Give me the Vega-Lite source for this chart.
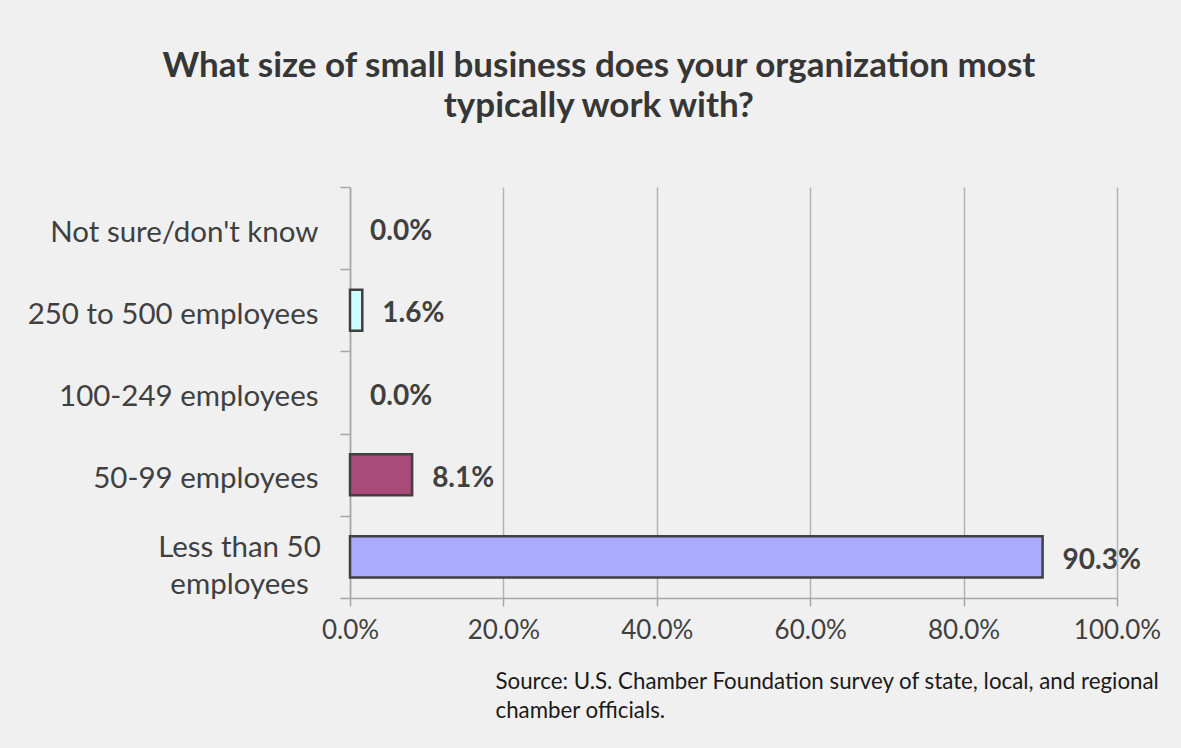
{
  "$schema": "https://vega.github.io/schema/vega-lite/v6.json",
  "autosize": {"type": "none"},
  "width": 767,
  "height": 411,
  "padding": {"left": 350, "top": 187, "right": 64, "bottom": 150},
  "background": "#f0f0f0",
  "title": {
    "text": ["What size of small business does your organization most", "typically work with?"],
    "font": "Lato",
    "fontSize": 35,
    "fontWeight": "bold",
    "color": "#363636",
    "lineHeight": 40,
    "anchor": "middle",
    "frame": "bounds",
    "offset": 48,
    "dx": 5
  },
  "config": {
    "view": {"stroke": null},
    "font": "Lato"
  },
  "data": {
    "values": [
      {"size": "Not sure/don't know", "share": 0.0},
      {"size": "250 to 500 employees", "share": 0.016},
      {"size": "100-249 employees", "share": 0.0},
      {"size": "50-99 employees", "share": 0.081},
      {"size": "Less than 50 employees", "share": 0.903}
    ]
  },
  "encoding": {
    "y": {
      "field": "size",
      "type": "nominal",
      "sort": ["Not sure/don't know", "250 to 500 employees", "100-249 employees", "50-99 employees", "Less than 50 employees"],
      "scale": {"paddingInner": 0.5, "paddingOuter": 0.25},
      "axis": {
        "title": null,
        "domainColor": "#a6a6a6",
        "domainWidth": 1.5,
        "tickColor": "#a6a6a6",
        "tickWidth": 1.5,
        "tickSize": 10,
        "bandPosition": 2,
        "tickExtra": true,
        "tickOffset": -20.55,
        "labelOffset": {"condition": {"test": "datum.value == 'Less than 50 employees'", "value": 11.5}, "value": 24.5},
        "labelFontSize": 29.5,
        "labelColor": "#404040",
        "labelAlign": {"condition": {"test": "datum.value == 'Less than 50 employees'", "value": "center"}, "value": "right"},
        "labelPadding": {"condition": {"test": "datum.value == 'Less than 50 employees'", "value": 101}, "value": 22},
        "labelLineHeight": 37,
        "labelExpr": "datum.value == 'Less than 50 employees' ? ['Less than 50', 'employees'] : datum.value",
        "labelLimit": 400
      }
    },
    "x": {
      "field": "share",
      "type": "quantitative",
      "scale": {"domain": [0, 1], "nice": false},
      "axis": {
        "format": ".1%",
        "values": [0, 0.2, 0.4, 0.6, 0.8, 1],
        "grid": true,
        "gridColor": "#b3b3b3",
        "gridWidth": 1.5,
        "domainColor": "#a6a6a6",
        "domainWidth": 1.5,
        "tickColor": "#a6a6a6",
        "tickWidth": 1.5,
        "tickSize": 8,
        "labelFontSize": 26,
        "labelColor": "#404040",
        "labelPadding": 11,
        "labelFlush": false,
        "title": ["Source: U.S. Chamber Foundation survey of state, local, and regional", "chamber officials."],
        "titleFontSize": 22.3,
        "titleFontWeight": "normal",
        "titleColor": "#1a1a1a",
        "titleAlign": "left",
        "titleAnchor": "start",
        "titleBaseline": "alphabetic",
        "titleLineHeight": 29,
        "titleX": 145,
        "titleY": 90
      }
    }
  },
  "layer": [
    {
      "transform": [{"filter": "datum.share > 0"}],
      "mark": {"type": "bar", "stroke": "#404040", "strokeWidth": 2.5},
      "encoding": {
        "color": {
          "field": "size",
          "type": "nominal",
          "legend": null,
          "scale": {
            "domain": ["Not sure/don't know", "250 to 500 employees", "100-249 employees", "50-99 employees", "Less than 50 employees"],
            "range": ["#ccccff", "#ccffff", "#ffffcc", "#a94a78", "#aaaaff"]
          }
        }
      }
    },
    {
      "mark": {"type": "text", "align": "left", "baseline": "middle", "dx": 20, "dy": 4, "fontSize": 28, "fontWeight": "bold", "color": "#404040"},
      "encoding": {
        "text": {"field": "share", "type": "quantitative", "format": ".1%"}
      }
    }
  ]
}
